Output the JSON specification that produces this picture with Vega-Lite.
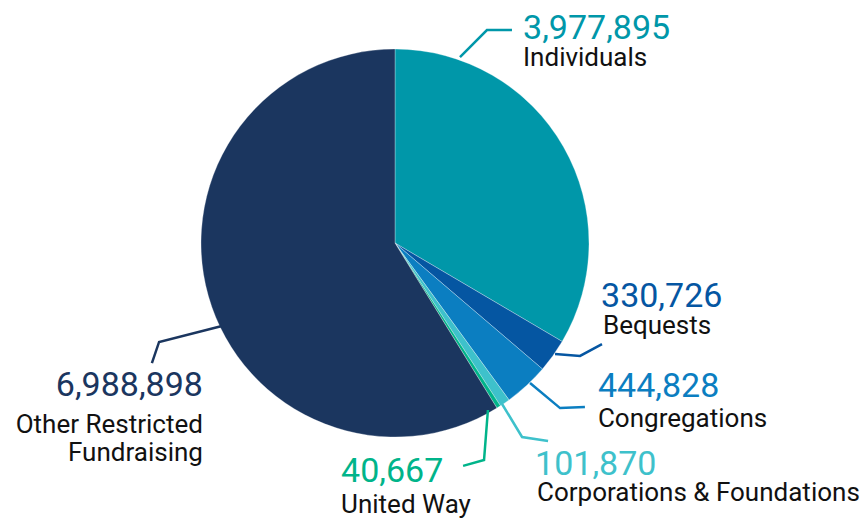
{
  "$schema": "https://vega.github.io/schema/vega-lite/v6.json",
  "width": 867,
  "height": 520,
  "autosize": {"type": "fit", "contains": "padding"},
  "padding": 0,
  "background": "#ffffff",
  "config": {"view": {"stroke": null}},
  "datasets": {
    "slices": [
      {"category": "Individuals", "amount": 3977895, "rank": 1},
      {"category": "Bequests", "amount": 330726, "rank": 2},
      {"category": "Congregations", "amount": 444828, "rank": 3},
      {"category": "Corporations & Foundations", "amount": 101870, "rank": 4},
      {"category": "United Way", "amount": 40667, "rank": 5},
      {"category": "Other Restricted Fundraising", "amount": 6988898, "rank": 6}
    ],
    "labels": [
      {"category": "Individuals", "amount": 3977895, "name": "Individuals", "vx": 66.0, "vy": 105.0, "nx": 66.0, "ny": 91.3},
      {"category": "Bequests", "amount": 330726, "name": "Bequests", "vx": 106.2, "vy": -33.1, "nx": 107.2, "ny": -46.9},
      {"category": "Congregations", "amount": 444828, "name": "Congregations", "vx": 104.6, "vy": -79.5, "nx": 104.6, "ny": -94.8},
      {"category": "Corporations & Foundations", "amount": 101870, "name": "Corporations & Foundations", "vx": 72.2, "vy": -119.7, "nx": 73.2, "ny": -133.0},
      {"category": "United Way", "amount": 40667, "name": "United Way", "vx": -27.8, "vy": -123.3, "nx": -27.8, "ny": -139.2},
      {"category": "Other Restricted Fundraising", "amount": 6988898, "name": "Other Restricted\nFundraising", "vx": -99.0, "vy": -79.0, "nx": -99.0, "ny": -97.9}
    ],
    "leaders": [
      {"category": "Individuals", "step": 1, "x": 33.5, "y": 95.9},
      {"category": "Individuals", "step": 2, "x": 47.4, "y": 109.8},
      {"category": "Individuals", "step": 3, "x": 60.3, "y": 109.8},
      {"category": "Bequests", "step": 1, "x": 82.5, "y": -57.2},
      {"category": "Bequests", "step": 2, "x": 95.4, "y": -58.2},
      {"category": "Bequests", "step": 3, "x": 106.7, "y": -52.1},
      {"category": "Congregations", "step": 1, "x": 69.6, "y": -72.2},
      {"category": "Congregations", "step": 2, "x": 85.1, "y": -85.1},
      {"category": "Congregations", "step": 3, "x": 97.9, "y": -84.5},
      {"category": "Corporations & Foundations", "step": 1, "x": 55.2, "y": -83.0},
      {"category": "Corporations & Foundations", "step": 2, "x": 65.5, "y": -100.0},
      {"category": "Corporations & Foundations", "step": 3, "x": 78.9, "y": -102.1},
      {"category": "United Way", "step": 1, "x": 47.9, "y": -86.1},
      {"category": "United Way", "step": 2, "x": 45.9, "y": -111.9},
      {"category": "United Way", "step": 3, "x": 35.1, "y": -114.9},
      {"category": "Other Restricted Fundraising", "step": 1, "x": -89.2, "y": -42.8},
      {"category": "Other Restricted Fundraising", "step": 2, "x": -121.6, "y": -51.0},
      {"category": "Other Restricted Fundraising", "step": 3, "x": -125.3, "y": -61.9}
    ]
  },
  "layer": [
    {
      "data": {"name": "slices"},
      "mark": {"type": "arc", "radius": 194, "stroke": "#ffffff", "strokeWidth": 0.3},
      "encoding": {
        "x": {"datum": 0, "type": "quantitative", "scale": {"domain": [-203.6, 243.3], "nice": false, "zero": false}, "axis": null},
        "y": {"datum": 0, "type": "quantitative", "scale": {"domain": [-142.8, 125.3], "nice": false, "zero": false}, "axis": null},
        "theta": {"field": "amount", "type": "quantitative", "stack": true},
        "order": {"field": "rank", "type": "quantitative"},
        "color": {
          "field": "category", "type": "nominal", "legend": null,
          "scale": {
            "domain": ["Individuals", "Bequests", "Congregations", "Corporations & Foundations", "United Way", "Other Restricted Fundraising"],
            "range": ["#0097A9", "#0556A2", "#0B7EC1", "#3EC1CB", "#00B48A", "#1B365F"]
          }
        }
      }
    },
    {
      "data": {"name": "leaders"},
      "mark": {"type": "line", "strokeWidth": 2.5, "strokeCap": "butt", "strokeJoin": "miter"},
      "encoding": {
        "x": {"field": "x", "type": "quantitative", "axis": null},
        "y": {"field": "y", "type": "quantitative", "axis": null},
        "detail": {"field": "category"},
        "order": {"field": "step", "type": "quantitative"},
        "color": {"field": "category", "type": "nominal", "legend": null}
      }
    },
    {
      "data": {"name": "labels"},
      "transform": [{"filter": "datum.category !== 'Other Restricted Fundraising'"}],
      "mark": {"type": "text", "align": "left", "baseline": "alphabetic", "font": "Roboto", "fontSize": 34},
      "encoding": {
        "x": {"field": "vx", "type": "quantitative", "axis": null},
        "y": {"field": "vy", "type": "quantitative", "axis": null},
        "text": {"field": "amount", "type": "quantitative", "format": ","},
        "color": {"field": "category", "type": "nominal", "legend": null}
      }
    },
    {
      "data": {"name": "labels"},
      "transform": [{"filter": "datum.category === 'Other Restricted Fundraising'"}],
      "mark": {"type": "text", "align": "right", "baseline": "alphabetic", "font": "Roboto", "fontSize": 34},
      "encoding": {
        "x": {"field": "vx", "type": "quantitative", "axis": null},
        "y": {"field": "vy", "type": "quantitative", "axis": null},
        "text": {"field": "amount", "type": "quantitative", "format": ","},
        "color": {"field": "category", "type": "nominal", "legend": null}
      }
    },
    {
      "data": {"name": "labels"},
      "transform": [{"filter": "datum.category !== 'Other Restricted Fundraising'"}],
      "mark": {"type": "text", "align": "left", "baseline": "alphabetic", "font": "Roboto", "fontSize": 26, "color": "#111111"},
      "encoding": {
        "x": {"field": "nx", "type": "quantitative", "axis": null},
        "y": {"field": "ny", "type": "quantitative", "axis": null},
        "text": {"field": "name", "type": "nominal"}
      }
    },
    {
      "data": {"name": "labels"},
      "transform": [{"filter": "datum.category === 'Other Restricted Fundraising'"}],
      "mark": {"type": "text", "align": "right", "baseline": "alphabetic", "font": "Roboto", "fontSize": 26, "color": "#111111", "lineBreak": "\n", "lineHeight": 28},
      "encoding": {
        "x": {"field": "nx", "type": "quantitative", "axis": null},
        "y": {"field": "ny", "type": "quantitative", "axis": null},
        "text": {"field": "name", "type": "nominal"}
      }
    }
  ]
}
